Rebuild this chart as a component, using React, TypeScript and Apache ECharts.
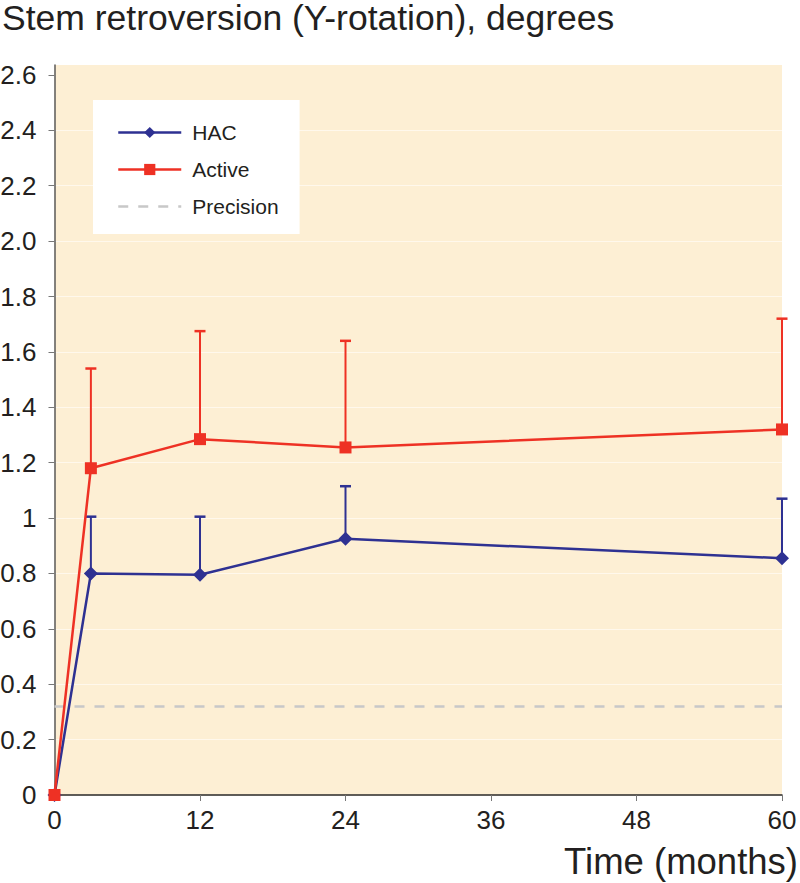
import React, { useEffect, useRef } from "react";
import * as echarts from "echarts";

const months = [0, 3, 12, 24, 60];
const hacValues = [0, 0.8, 0.795, 0.925, 0.855];
const hacUpper = [null, 1.005, 1.005, 1.115, 1.07];
const activeValues = [0, 1.18, 1.285, 1.255, 1.32];
const activeUpper = [null, 1.54, 1.675, 1.64, 1.72];
const precisionValue = 0.32;
const yTicks = [0, 0.2, 0.4, 0.6, 0.8, 1, 1.2, 1.4, 1.6, 1.8, 2.0, 2.2, 2.4, 2.6];
const yTickLabels = ["0", "0.2", "0.4", "0.6", "0.8", "1", "1.2", "1.4", "1.6", "1.8", "2.0", "2.2", "2.4", "2.6"];
const titleText = "Stem retroversion (Y-rotation), degrees";
const xAxisTitle = "Time (months)";

const FONT = "'Liberation Sans', Arial, Helvetica, sans-serif";
const BLUE = "#2E3192";
const RED = "#EE3124";
const TEXT = "#231F20";

function errorBarSeries(name: string, color: string, values: number[], upper: (number | null)[]) {
  const data = months
    .map((m, i) => [m, values[i], upper[i]])
    .filter((d) => d[2] !== null);
  return {
    type: "custom",
    name: name + " error",
    data,
    z: 3,
    renderItem: (params: any, api: any) => {
      const x = api.value(0);
      const p1 = api.coord([x, api.value(1)]);
      const p2 = api.coord([x, api.value(2)]);
      const half = 5.5;
      return {
        type: "group",
        children: [
          {
            type: "line",
            shape: { x1: p1[0], y1: p1[1], x2: p2[0], y2: p2[1] },
            style: { stroke: color, lineWidth: 2 },
          },
          {
            type: "line",
            shape: { x1: p2[0] - half, y1: p2[1], x2: p2[0] + half, y2: p2[1] },
            style: { stroke: color, lineWidth: 2.5 },
          },
        ],
      };
    },
  };
}

export default function App() {
  const ref = useRef<HTMLDivElement>(null);
  useEffect(() => {
    document.body.style.margin = "0";
    const chart = echarts.init(ref.current!, null, { renderer: "svg" });
    const option: any = {
      animation: false,
      backgroundColor: "#ffffff",
      textStyle: { fontFamily: FONT },
      grid: {
        left: 54.5,
        right: 18,
        top: 65,
        bottom: 88,
        show: true,
        backgroundColor: "#FDEFD4",
        borderWidth: 0,
        containLabel: false,
        outerBoundsMode: "none",
      },
      graphic: [
        {
          type: "text",
          left: 2,
          top: 0,
          style: { text: titleText, font: `35.5px ${FONT}`, fill: TEXT },
        },
        {
          type: "text",
          right: 2,
          bottom: 3,
          style: { text: xAxisTitle, font: `36.5px ${FONT}`, fill: TEXT },
        },
      ],
      legend: {
        left: 93,
        top: 100,
        orient: "vertical",
        backgroundColor: "#ffffff",
        padding: [22, 21, 17, 24],
        itemWidth: 63,
        itemHeight: 14,
        itemGap: 16,
        borderRadius: 0,
        data: [
          { name: "HAC", lineStyle: { width: 2.5 } },
          { name: "Active", lineStyle: { width: 2.5 } },
          { name: "Precision", lineStyle: { width: 2.5 }, itemStyle: { color: "rgba(0,0,0,0)", borderWidth: 0 } },
        ],
        textStyle: { fontSize: 21, color: TEXT, fontFamily: FONT, padding: [0, 0, 0, 6] },
      },
      xAxis: {
        type: "value",
        min: 0,
        max: 60,
        interval: 12,
        axisLine: { show: true, lineStyle: { color: "#2a2a2a", width: 1.5 } },
        axisTick: { show: true, length: 6, lineStyle: { color: "#777777" } },
        axisLabel: { fontSize: 26, color: TEXT, margin: 12, fontFamily: FONT },
        splitLine: { show: false },
      },
      yAxis: {
        type: "value",
        min: 0,
        max: 2.636,
        interval: 0.2,
        axisLine: { show: true, lineStyle: { color: "#5a5a5a", width: 1.5 } },
        axisTick: { show: true, length: 6, customValues: yTicks, lineStyle: { color: "#777777" } },
        axisLabel: {
          fontSize: 26,
          color: TEXT,
          margin: 18,
          fontFamily: FONT,
          customValues: yTicks,
          formatter: (v: number) => {
            const idx = yTicks.findIndex((t) => Math.abs(t - v) < 1e-6);
            return idx >= 0 ? yTickLabels[idx] : "";
          },
        },
        splitLine: { show: true, showMaxLine: false, lineStyle: { color: "#FFF8EC", width: 1 } },
      },
      series: [
        {
          name: "Precision",
          type: "line",
          data: [[0, precisionValue], [60, precisionValue]],
          symbol: "none",
          lineStyle: { color: "#C8C8C8", width: 2.5, type: [10, 10] },
          itemStyle: { color: "#C8C8C8" },
          z: 1,
        },
        errorBarSeries("HAC", BLUE, hacValues, hacUpper),
        errorBarSeries("Active", RED, activeValues, activeUpper),
        {
          name: "HAC",
          type: "line",
          data: months.map((m, i) => [m, hacValues[i]]),
          symbol: "diamond",
          symbolSize: 14,
          lineStyle: { color: BLUE, width: 2.5 },
          itemStyle: { color: BLUE },
          z: 4,
        },
        {
          name: "Active",
          type: "line",
          data: months.map((m, i) => [m, activeValues[i]]),
          symbol: "rect",
          symbolSize: 12,
          lineStyle: { color: RED, width: 2.5 },
          itemStyle: { color: RED },
          z: 5,
        },
      ],
    };
    chart.setOption(option);
    return () => chart.dispose();
  }, []);
  return (
    <div
      ref={ref}
      style={{ position: "absolute", left: 0, top: 0, width: 800, height: 883 }}
    />
  );
}
